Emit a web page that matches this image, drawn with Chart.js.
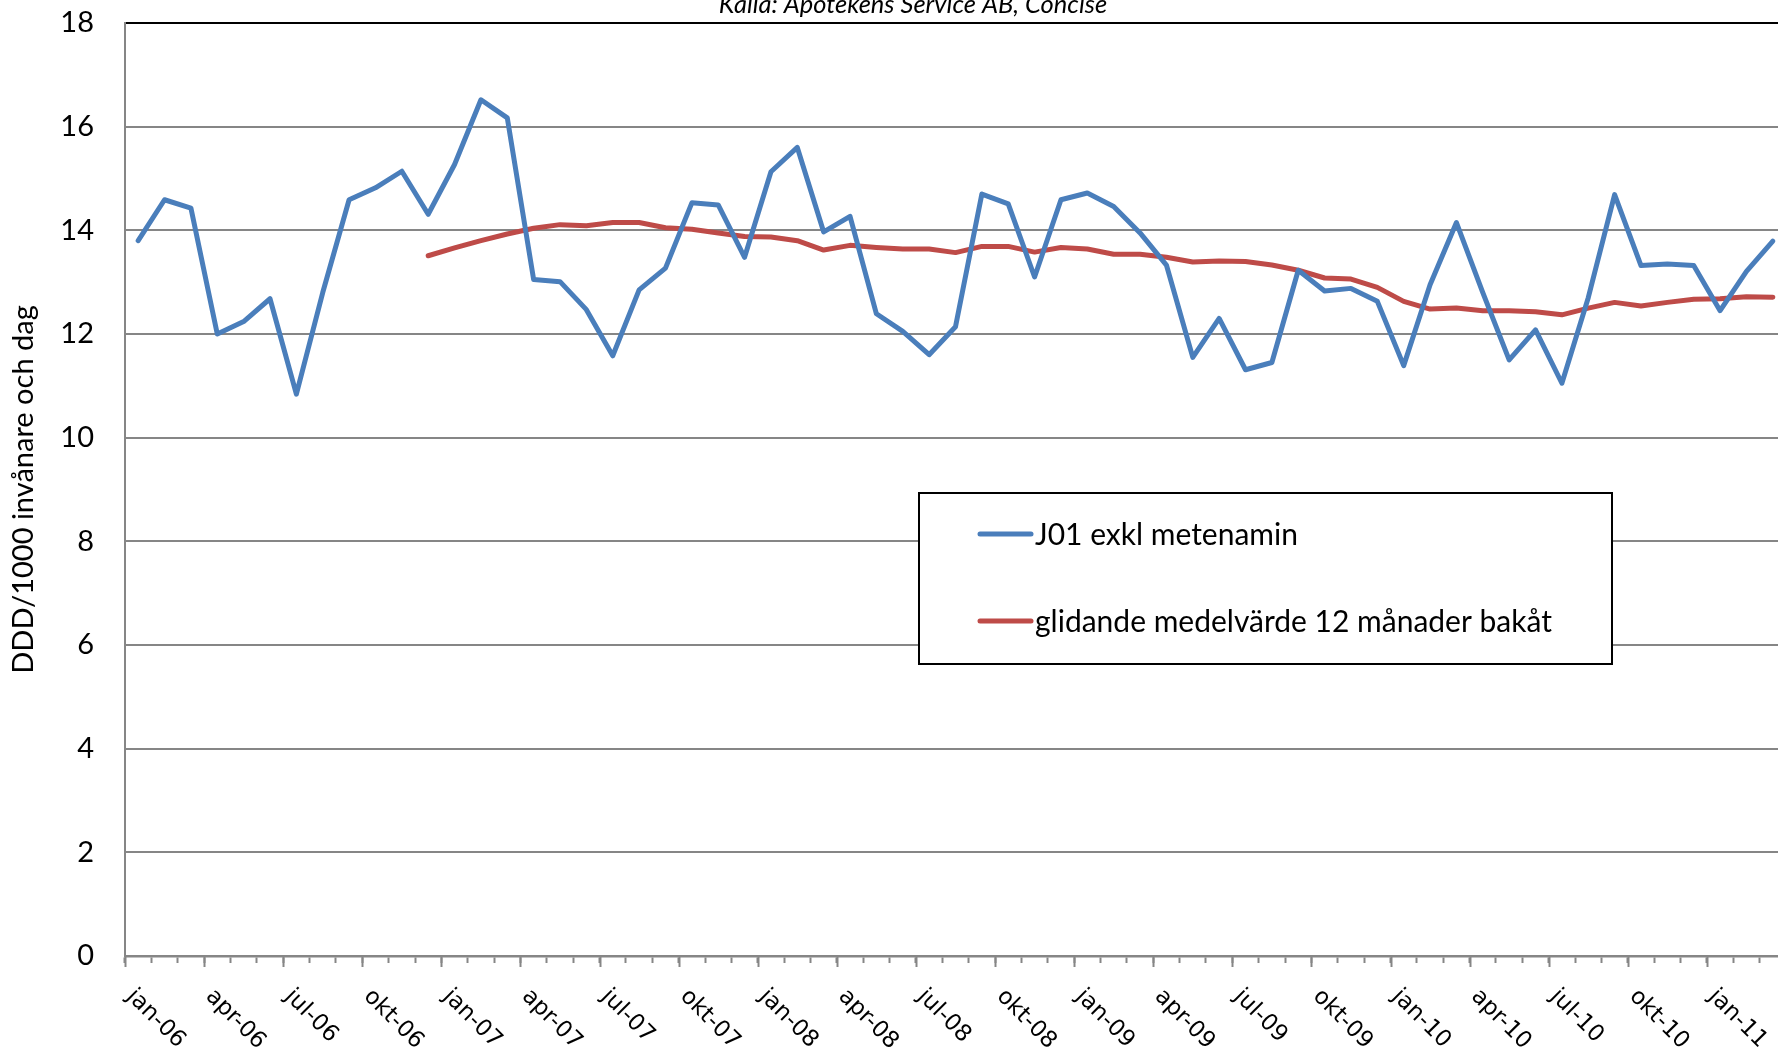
<!DOCTYPE html>
<html>
<head>
<meta charset="utf-8">
<script src="https://cdn.jsdelivr.net/npm/chart.js@4.4.1/dist/chart.umd.min.js"></script>
<style>
  html, body { margin: 0; padding: 0; overflow: hidden; background: #fff; }
  #wrap { width: 1800px; height: 1049px; }
</style>
</head>
<body>
<div id="wrap"><canvas id="myChart"></canvas></div>
<script>
// months jan-06 .. mar-11
const months = [
    'jan-06', 'feb-06', 'mar-06', 'apr-06', 'maj-06', 'jun-06', 'jul-06', 'aug-06', 'sep-06', 'okt-06', 'nov-06', 'dec-06',
    'jan-07', 'feb-07', 'mar-07', 'apr-07', 'maj-07', 'jun-07', 'jul-07', 'aug-07', 'sep-07', 'okt-07', 'nov-07', 'dec-07',
    'jan-08', 'feb-08', 'mar-08', 'apr-08', 'maj-08', 'jun-08', 'jul-08', 'aug-08', 'sep-08', 'okt-08', 'nov-08', 'dec-08',
    'jan-09', 'feb-09', 'mar-09', 'apr-09', 'maj-09', 'jun-09', 'jul-09', 'aug-09', 'sep-09', 'okt-09', 'nov-09', 'dec-09',
    'jan-10', 'feb-10', 'mar-10', 'apr-10', 'maj-10', 'jun-10', 'jul-10', 'aug-10', 'sep-10', 'okt-10', 'nov-10', 'dec-10',
    'jan-11', 'feb-11', 'mar-11'
];

// J01 exkl metenamin, DDD/1000 inv och dag
const j01 = [
    13.80, 14.59, 14.43, 12.00, 12.24, 12.68, 10.84, 12.80, 14.59, 14.82, 15.14, 14.31,
    15.27, 16.52, 16.17, 13.05, 13.01, 12.47, 11.58, 12.85, 13.27, 14.53, 14.49, 13.48,
    15.13, 15.60, 13.97, 14.27, 12.39, 12.05, 11.60, 12.14, 14.70, 14.51, 13.10, 14.59,
    14.72, 14.46, 13.95, 13.33, 11.55, 12.30, 11.31, 11.45, 13.23, 12.83, 12.88, 12.63,
    11.39, 12.95, 14.15, 12.80, 11.50, 12.08, 11.05, 12.70, 14.69, 13.32, 13.35, 13.32,
    12.45, 13.21, 13.79
];

// glidande medelvärde 12 månader bakåt
const avg12 = [
    null, null, null, null, null, null, null, null, null, null, null, 13.51,
    13.66, 13.80, 13.93, 14.04, 14.11, 14.09, 14.15, 14.15, 14.05, 14.02, 13.95, 13.88,
    13.87, 13.80, 13.62, 13.71, 13.67, 13.64, 13.64, 13.57, 13.69, 13.69, 13.58, 13.67,
    13.64, 13.54, 13.54, 13.48, 13.39, 13.41, 13.40, 13.33, 13.23, 13.08, 13.06, 12.90,
    12.63, 12.48, 12.50, 12.45, 12.45, 12.43, 12.37, 12.50, 12.61, 12.54, 12.61, 12.67,
    12.68, 12.72, 12.71
];

const yTicks = [0, 2, 4, 6, 8, 10, 12, 14, 16, 18];

const GRID = '#868686';

// x labels go down to the right (Excel style), plus longer quarter ticks, legend box and source line
const extras = {
    id: 'extras',
    afterDraw(chart) {
        const ctx = chart.ctx;
        const xs = chart.scales.x;
        const half = (xs.getPixelForValue(1) - xs.getPixelForValue(0)) / 2;
        const bottom = chart.chartArea.bottom;

        ctx.save();
        ctx.strokeStyle = GRID;
        ctx.lineWidth = 2;
        for (let i = 0; i < months.length; i += 3) {
            const x = Math.round(xs.getPixelForValue(i) - half) + 0.5;
            ctx.beginPath();
            ctx.moveTo(x, bottom);
            ctx.lineTo(x, bottom + 11);
            ctx.stroke();
        }
        ctx.fillStyle = '#000';
        ctx.font = '23px "DejaVu Sans"';
        ctx.textAlign = 'left';
        ctx.textBaseline = 'top';
        for (let i = 0; i < months.length; i += 3) {
            const x = xs.getPixelForValue(i);
            ctx.save();
            ctx.translate(x, bottom + 29);
            ctx.rotate(Math.PI / 4);
            ctx.fillText(months[i], 0, 0);
            ctx.restore();
        }

        // source line, mostly cut off at top
        ctx.font = 'italic 25.5px Lato';
        ctx.textAlign = 'center';
        ctx.textBaseline = 'alphabetic';
        ctx.fillText('Källa: Apotekens Service AB, Concise', 913, 13);

        // legend
        const bx = 919, by = 493, bw = 693, bh = 171;
        ctx.fillStyle = '#fff';
        ctx.fillRect(bx, by, bw, bh);
        ctx.strokeStyle = '#000';
        ctx.lineWidth = 2;
        ctx.strokeRect(bx, by, bw, bh);
        const rows = [534, 621];
        chart.data.datasets.forEach((ds, k) => {
            ctx.strokeStyle = ds.borderColor;
            ctx.lineWidth = 5;
            ctx.lineCap = 'round';
            ctx.beginPath();
            ctx.moveTo(980, rows[k]);
            ctx.lineTo(1031, rows[k]);
            ctx.stroke();
            ctx.fillStyle = '#000';
            ctx.font = '30px Lato';
            ctx.textAlign = 'left';
            ctx.textBaseline = 'middle';
            ctx.fillText(ds.label, 1035, rows[k] + 1);
        });
        ctx.restore();
    }
};

const ctx = document.getElementById('myChart').getContext('2d');

new Chart(ctx, {
    type: 'line',
    data: {
        labels: months,
        datasets: [{
            label: 'J01 exkl metenamin',
            data: j01,
            borderColor: '#4A7EBB',
            borderWidth: 5,
            pointRadius: 0,
            tension: 0,
            borderJoinStyle: 'round',
            borderCapStyle: 'round'
        },
        {
            label: 'glidande medelvärde 12 månader bakåt',
            data: avg12,
            borderColor: '#BE4B48',
            borderWidth: 5,
            pointRadius: 0,
            tension: 0,
            borderJoinStyle: 'round',
            borderCapStyle: 'round'
        }]
    },
    options: {
        responsive: true,
        maintainAspectRatio: false,
        animation: false,
        layout: { padding: { top: 23, right: 14, bottom: 0, left: 0 } },
        scales: {
            x: {
                type: 'category',
                offset: true,
                afterFit: (scale) => { scale.height = 93; },
                grid: {
                    offset: true,
                    drawOnChartArea: false,
                    drawTicks: true,
                    tickLength: 7,
                    tickColor: GRID,
                    tickWidth: 2
                },
                border: { color: GRID, width: 2.5 },
                ticks: { display: false }
            },
            y: {
                min: 0,
                max: 18,
                afterFit: (scale) => { scale.width = 125; },
                afterBuildTicks: (scale) => { scale.ticks = yTicks.map(v => ({ value: v })); },
                grid: {
                    drawTicks: true,
                    tickLength: 31,
                    tickColor: 'rgba(0,0,0,0)',
                    color: (c) => (c.tick && c.tick.value === 18 ? '#000' : GRID),
                    lineWidth: 2
                },
                border: { color: GRID, width: 2 },
                ticks: {
                    padding: 0,
                    color: '#000',
                    font: { family: 'Lato', size: 29 }
                },
                title: {
                    display: true,
                    text: 'DDD/1000 invånare och dag',
                    color: '#000',
                    font: { family: 'Lato', size: 29 },
                    padding: { top: 6, bottom: 0 }
                }
            }
        },
        plugins: {
            legend: { display: false },
            title: { display: false },
            tooltip: { enabled: false }
        }
    },
    plugins: [extras]
});
</script>
</body>
</html>
